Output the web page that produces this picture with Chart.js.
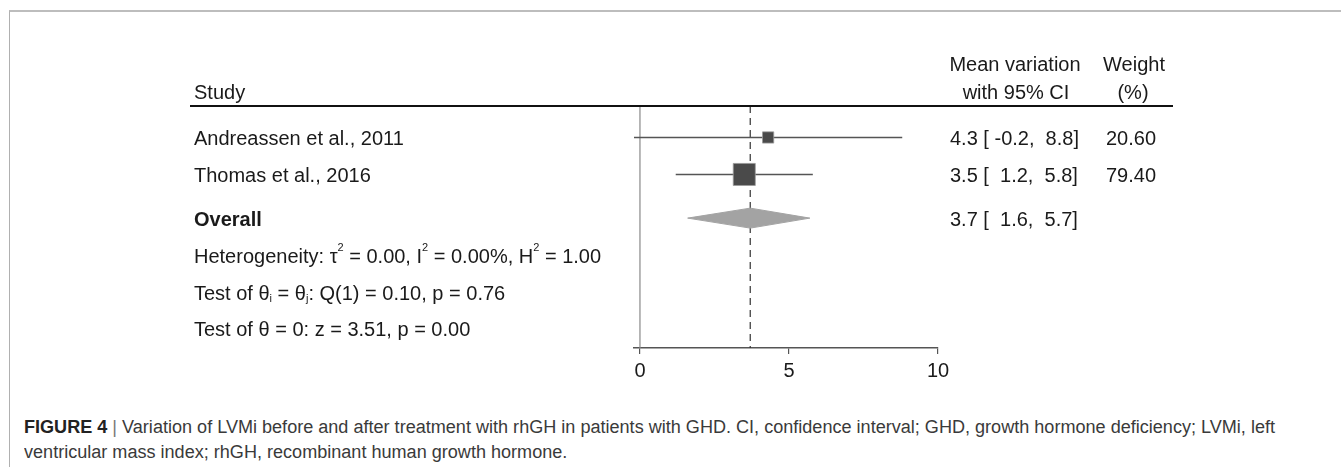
<!DOCTYPE html>
<html>
<head>
<meta charset="utf-8">
<script src="https://cdn.jsdelivr.net/npm/chart.js@4.4.0/dist/chart.umd.min.js"></script>
<style>
  html, body { margin: 0; padding: 0; background: #fff; }
  body { width: 1341px; height: 467px; position: relative; overflow: hidden; }
  #frame { position: absolute; left: 9px; top: 10px; right: 0; bottom: 0;
           border-top: 2px solid #bdbdbd; border-left: 1px solid #b0b0b0; }
  #plot { position: absolute; left: 0; top: 0; }
  #caption { position: absolute; left: 24px; top: 415px; white-space: nowrap;
             font-family: "Liberation Sans Narrow", "Arial Narrow", "Liberation Sans", Arial, sans-serif;
             font-size: 18px; line-height: 25px; color: #3a3a3a; transform-origin: 0 0; }
  #caption b { color: #222; }
  #caption .bar { color: #777; }
</style>
</head>
<body>
<div id="frame"></div>
<canvas id="plot" width="1341" height="400"></canvas>
<div id="caption"><span id="line1"><b>FIGURE 4</b> <span class="bar">|</span> Variation of LVMi before and after treatment with rhGH in patients with GHD. CI, confidence interval; GHD, growth hormone deficiency; LVMi, left</span><br>ventricular mass index; rhGH, recombinant human growth hormone.</div>

<script>
// forest plot data
const studies = ['Andreassen et al., 2011', 'Thomas et al., 2016'];
const effect = [4.3, 3.5];
const ciLow = [-0.2, 1.2];
const ciHigh = [8.8, 5.8];
const weights = [20.60, 79.40];
const overall = [3.7, 1.6, 5.7];   // estimate, lower, upper
const xTicks = [0, 5, 10];
const statLines = [
    [['Heterogeneity: τ'], ['2', 'sup'], [' = 0.00, I'], ['2', 'sup'], [' = 0.00%, H'], ['2', 'sup'], [' = 1.00']],
    [['Test of θ'], ['i', 'sub'], [' = θ'], ['j', 'sub'], [': Q(1) = 0.10, p = 0.76']],
    [['Test of θ = 0: z = 3.51, p = 0.00']]
];

// layout (row positions in y units, 0 = header line)
const rowY = [0.85, 1.85, 3.03, 4.03, 5.03, 6.0];
const yMax = 6.54;
const FONT = '"Liberation Sans", Arial, sans-serif';
const BODY = '20px ' + FONT;
const TEXT = '#1a1a1a';
const TY = 2;   // text baseline nudge

function ciText(e, lo, hi) {
    const pad = v => (v < 0 ? ' ' : '  ') + v.toFixed(1);
    return e.toFixed(1) + ' [' + pad(lo) + ',' + pad(hi) + ']';
}

function drawRich(ctx, x, y, parts) {
    parts.forEach(p => {
        const mode = p[1];
        if (mode) {
            ctx.font = '11px ' + FONT;
            const dy = mode === 'sup' ? -9 : 5;
            ctx.fillText(p[0], x, y + dy);
        } else {
            ctx.font = BODY;
            ctx.fillText(p[0], x, y);
        }
        x += ctx.measureText(p[0]).width;
    });
}

const textPlugin = {
    id: 'forestText',
    afterDraw(chart) {
        const ctx = chart.ctx;
        const ys = chart.scales.y;
        ctx.save();
        ctx.fillStyle = TEXT;
        ctx.textBaseline = 'middle';

        // header
        ctx.font = BODY;
        ctx.textAlign = 'left';
        ctx.fillText('Study', 194, 93);
        ctx.textAlign = 'center';
        ctx.fillText('Mean variation', 1015, 65);
        ctx.fillText('with 95% CI', 1016, 93);
        ctx.fillText('Weight', 1134, 65);
        ctx.fillText('(%)', 1133, 93);

        ctx.strokeStyle = '#111';
        ctx.lineWidth = 2;
        ctx.beginPath();
        ctx.moveTo(190, ys.top);
        ctx.lineTo(1173, ys.top);
        ctx.stroke();

        // study rows
        studies.forEach((s, i) => {
            const y = ys.getPixelForValue(rowY[i]) + TY;
            ctx.font = BODY;
            ctx.textAlign = 'left';
            ctx.fillText(s, 194, y);
            ctx.fillText(ciText(effect[i], ciLow[i], ciHigh[i]), 950, y);
            ctx.textAlign = 'center';
            ctx.fillText(weights[i].toFixed(2), 1131, y);
        });

        // overall
        const yo = ys.getPixelForValue(rowY[2]) + TY;
        ctx.textAlign = 'left';
        ctx.font = 'bold ' + BODY;
        ctx.fillText('Overall', 194, yo);
        ctx.font = BODY;
        ctx.fillText(ciText(overall[0], overall[1], overall[2]), 950, yo);

        // heterogeneity and tests
        statLines.forEach((parts, k) => {
            drawRich(ctx, 194, ys.getPixelForValue(rowY[3 + k]) + TY, parts);
        });
        ctx.restore();
    }
};

const datasets = [];

// reference lines
datasets.push({
    type: 'line', data: [{ x: 0, y: 0 }, { x: 0, y: yMax }],
    borderColor: '#8a8a8a', borderWidth: 1.2, pointRadius: 0, order: 9
});
datasets.push({
    type: 'line', data: [{ x: overall[0], y: 0 }, { x: overall[0], y: yMax }],
    borderColor: '#333', borderWidth: 1.2, borderDash: [7, 5], pointRadius: 0, order: 8
});

// confidence intervals
studies.forEach((s, i) => {
    datasets.push({
        type: 'line', data: [{ x: ciLow[i], y: rowY[i] }, { x: ciHigh[i], y: rowY[i] }],
        borderColor: '#555', borderWidth: 1.5, pointRadius: 0, order: 5
    });
});

// overall diamond
const dh = 0.27;
datasets.push({
    type: 'line',
    data: [
        { x: overall[1], y: rowY[2] }, { x: overall[0], y: rowY[2] - dh },
        { x: overall[2], y: rowY[2] }, { x: overall[0], y: rowY[2] + dh },
        { x: overall[1], y: rowY[2] }
    ],
    borderColor: '#a3a3a3', borderWidth: 1, backgroundColor: '#a3a3a3',
    fill: 'shape', pointRadius: 0, tension: 0, order: 3
});

// weighted boxes
datasets.push({
    type: 'scatter',
    data: studies.map((s, i) => ({ x: effect[i], y: rowY[i] })),
    pointStyle: 'rect',
    pointRadius: weights.map(w => 1.75 * Math.sqrt(w)),
    backgroundColor: '#4a4a4a', borderColor: '#9a9a9a', borderWidth: 0.8,
    order: 1
});

new Chart(document.getElementById('plot'), {
    type: 'scatter',
    data: { datasets: datasets },
    options: {
        responsive: false,
        animation: false,
        devicePixelRatio: 1,
        layout: { padding: { left: 634, right: 403, top: 106, bottom: 12 } },
        plugins: { legend: { display: false }, tooltip: { enabled: false } },
        scales: {
            x: {
                type: 'linear', min: -0.2, max: 10,
                afterBuildTicks: axis => { axis.ticks = xTicks.map(v => ({ value: v })); },
                afterFit: axis => { axis.height = 40; },
                grid: { drawOnChartArea: false, tickLength: 6, color: '#555', lineWidth: 1.2 },
                border: { display: true, color: '#555', width: 1.5 },
                ticks: { color: TEXT, padding: 5, font: { family: FONT, size: 20 } }
            },
            y: { type: 'linear', min: 0, max: yMax, reverse: true, display: false }
        }
    },
    plugins: [textPlugin]
});

// fit the caption's first line to the printed width
const cap = document.getElementById('caption');
const w1 = document.getElementById('line1').getBoundingClientRect().width;
if (w1 > 0) cap.style.transform = 'scaleX(' + (1251 / w1) + ')';
</script>
</body>
</html>
